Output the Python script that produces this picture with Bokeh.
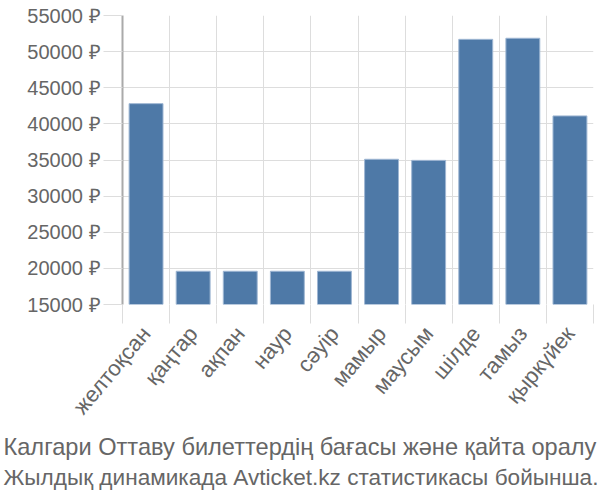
import math
from bokeh.plotting import figure
from bokeh.models import (Range1d, LinearAxis, FixedTicker, PrintfTickFormatter,
                          CustomJSTickFormatter, Title, ColumnDataSource, Grid)
from bokeh.embed import file_html
from bokeh.resources import INLINE

months = ["желтоқсан", "қаңтар", "ақпан", "наур", "сәуір", "мамыр",
          "маусым", "шілде", "тамыз", "қыркүйек"]
prices = [42800, 19600, 19600, 19600, 19600, 35100, 34950, 51700, 51850, 41100]
y_ticks = [15000, 20000, 25000, 30000, 35000, 40000, 45000, 50000, 55000]
title_lines = ["Калгари Оттаву билеттердің бағасы және қайта оралу",
               "Жылдық динамикада Avticket.kz статистикасы бойынша."]

FONT = "Liberation Sans"
GRID = "#dddddd"
TXT = "#666666"

n = len(months)
src = ColumnDataSource(dict(x=[i + 0.5 for i in range(n)], top=prices, name=months))

p = figure(width=600, height=500, output_backend="svg", toolbar_location=None,
           x_range=Range1d(0, n), y_range=Range1d(15000, 55000),
           x_axis_location=None, y_axis_location=None,
           min_border_left=122, min_border_right=7, min_border_top=15,
           min_border_bottom=196)
p.outline_line_color = None
p.background_fill_color = "white"

p.vbar(x="x", top="top", bottom=15000, width=0.72, source=src,
       fill_color="#4e79a7", line_color="#9fb7d3", line_width=1)

# y axis
yax = LinearAxis(ticker=FixedTicker(ticks=y_ticks),
                 formatter=PrintfTickFormatter(format="%d ₽"))
yax.axis_line_color = "#aaaaaa"
yax.axis_line_width = 2
yax.major_tick_line_color = GRID
yax.major_tick_out = 19
yax.major_tick_in = 0
yax.minor_tick_line_color = None
yax.major_label_text_font = FONT
yax.major_label_text_font_size = "20px"
yax.major_label_text_color = TXT
yax.major_label_standoff = 3
p.add_layout(yax, "left")

# boundary ticks axis
bax = LinearAxis(ticker=FixedTicker(ticks=list(range(n + 1))),
                 formatter=CustomJSTickFormatter(code="return '';"))
bax.axis_line_color = None
bax.major_tick_line_color = GRID
bax.major_tick_out = 19
bax.major_tick_in = 0
bax.minor_tick_line_color = None
bax.major_label_text_font_size = "1px"
bax.major_label_standoff = 0
p.add_layout(bax, "below")

# month labels axis
lax = LinearAxis(ticker=FixedTicker(ticks=[i + 0.5 for i in range(n)]),
                 formatter=CustomJSTickFormatter(args=dict(names=months),
                                                 code="return names[Math.floor(tick)];"))
lax.axis_line_color = None
lax.major_tick_line_color = None
lax.minor_tick_line_color = None
lax.major_label_orientation = math.radians(50)
lax.major_label_text_font = FONT
lax.major_label_text_font_size = "22px"
lax.major_label_text_color = TXT
lax.major_label_standoff = 0
p.add_layout(lax, "below")

p.xgrid.visible = False
p.ygrid.visible = False
p.add_layout(Grid(dimension=0, ticker=bax.ticker, grid_line_color=GRID, grid_line_width=1))
p.add_layout(Grid(dimension=1, ticker=yax.ticker, grid_line_color=GRID, grid_line_width=1))

sizes = ["23.6px", "22.6px"]
for i, line in enumerate(title_lines):
    t = Title(text=line, align="left", text_font=FONT, text_font_size=sizes[i],
              text_color=TXT, text_font_style="normal",
              standoff=5 if i == 0 else 1, offset=-119)
    p.add_layout(t, "below")

open("out.html", "w").write(file_html(p, INLINE))
